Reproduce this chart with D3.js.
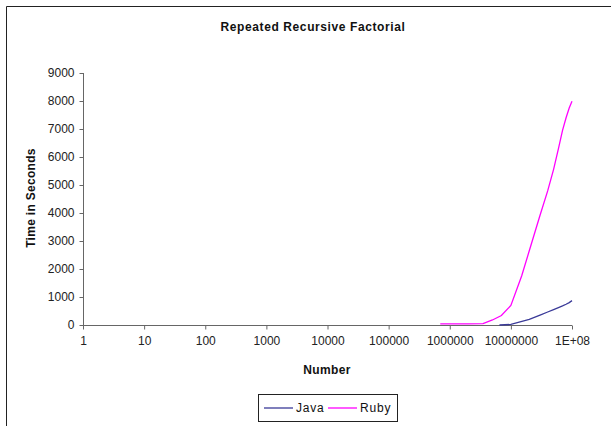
<!DOCTYPE html>
<html><head><meta charset="utf-8">
<script src="https://cdn.jsdelivr.net/npm/d3@7"></script>
<style>
body{margin:0;background:#fff;}
text{font-family:"Liberation Sans",Arial,sans-serif;}
</style></head>
<body><svg id="c" width="611" height="426"></svg>
<script>
const title = "Repeated Recursive Factorial";
const xLabel = "Number";
const yLabel = "Time in Seconds";
const xTicks = [1,1e1,1e2,1e3,1e4,1e5,1e6,1e7,1e8];
const xTickLabels = ["1","10","100","1000","10000","100000","1000000","10000000","1E+08"];
const yTicks = [0,1000,2000,3000,4000,5000,6000,7000,8000,9000];
const seriesNames = ["Java","Ruby"];
const javaX = [6.5e6,1e7,2e7,3e7,4e7,5e7,6e7,7e7,8e7,9e7,1e8];
const javaY = [0,20,200,355,465,550,620,680,740,800,870];
const rubyX = [7e5,1e6,2e6,3.5e6,5e6,7e6,1e7,1.5e7,2e7,3e7,4e7,5e7,6e7,7e7,8e7,9e7,1e8];
const rubyY = [40,40,40,50,180,340,700,1750,2650,3920,4790,5560,6300,6950,7400,7750,7990];
const colors = ["#3a3a98","#ff00ff"];

const svg = d3.select("#c");
// chart area border (top and left visible)
svg.append("line").attr("x1",6.5).attr("y1",6.5).attr("x2",611).attr("y2",6.5).attr("stroke","#222");
svg.append("line").attr("x1",6.5).attr("y1",6.5).attr("x2",6.5).attr("y2",426).attr("stroke","#222");

const x = d3.scaleLog().domain([1,1e8]).range([83,572]);
const y = d3.scaleLinear().domain([0,9000]).range([325,73]);

svg.append("text").attr("x",313).attr("y",31).attr("text-anchor","middle")
  .attr("font-size","12px").attr("font-weight","bold").attr("letter-spacing","0.6px").attr("fill","#111").text(title);

const gy = svg.append("g").attr("transform","translate(83.5,0)")
  .call(d3.axisLeft(y).tickValues(yTicks).tickSize(4).tickPadding(5).tickFormat(d3.format("d")));
const gx = svg.append("g").attr("transform","translate(0,325.5)")
  .call(d3.axisBottom(x).tickValues(xTicks).tickSize(4).tickPadding(7).tickFormat((d,i)=>xTickLabels[i]));
[gx,gy].forEach(g=>{
  g.selectAll("path,line").attr("stroke","#666");
  g.selectAll("text").attr("font-size","12px").attr("fill","#222").attr("font-family","Liberation Sans, Arial, sans-serif");
});
gx.select(".domain").attr("d","M83,0H572");
gy.select(".domain").attr("d","M0,73V325");

svg.append("text").attr("x",327).attr("y",374).attr("text-anchor","middle")
  .attr("font-size","12px").attr("font-weight","bold").attr("letter-spacing","0.4px").attr("fill","#111").text(xLabel);
svg.append("text").attr("transform","translate(35,198) rotate(-90)").attr("text-anchor","middle")
  .attr("font-size","12px").attr("font-weight","bold").attr("letter-spacing","0.3px").attr("fill","#111").text(yLabel);

const line = d3.line().x(d=>x(d[0])).y(d=>y(d[1]));
const data = [d3.zip(javaX,javaY), d3.zip(rubyX,rubyY)];
data.forEach((d,i)=>{
  svg.append("path").datum(d).attr("d",line).attr("fill","none")
    .attr("stroke",colors[i]).attr("stroke-width",1.3);
});

// legend
const lg = svg.append("g");
lg.append("rect").attr("x",258.5).attr("y",394.5).attr("width",139).attr("height",27)
  .attr("fill","#fff").attr("stroke","#222");
const lx = [264,328];
seriesNames.forEach((n,i)=>{
  lg.append("line").attr("x1",lx[i]).attr("x2",lx[i]+29).attr("y1",408).attr("y2",408)
    .attr("stroke",colors[i]).attr("stroke-width",1.3);
  lg.append("text").attr("x",lx[i]+32).attr("y",412).attr("font-size","12px").attr("letter-spacing","0.8px").attr("fill","#111").text(n);
});
</script></body></html>
